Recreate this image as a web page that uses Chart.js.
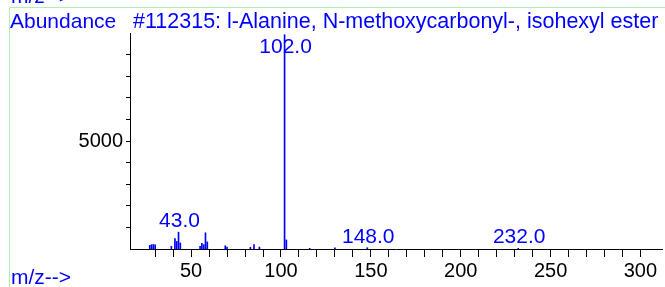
<!DOCTYPE html>
<html>
<head>
<meta charset="utf-8">
<script src="https://cdn.jsdelivr.net/npm/chart.js@4"></script>
<style>
  html, body { margin: 0; padding: 0; background: #fff; }
</style>
</head>
<body>
<canvas id="myChart" width="665" height="287"></canvas>
<script>
// data
const mzValues  = [27, 28, 29, 30, 39, 41, 42, 43, 44, 55, 56, 57, 58, 59, 69, 70, 83, 85, 88, 102, 103, 116, 130, 148, 232];
const abundance = [170, 200, 210, 190, 120, 480, 350, 780, 280, 120, 260, 200, 750, 330, 150, 90, 80, 200, 90, 9920, 420, 30, 50, 60, 30];
const peakLabelMz   = [43, 102, 148, 232];
const peakLabelText = ['43.0', '102.0', '148.0', '232.0'];
const xTickLabels = [50, 100, 150, 200, 250, 300];
const yTickLabels = [5000];

const blue = '#0000ff';
const textFont = '21px "Liberation Sans", Arial, sans-serif';

// extra text, frame and peak labels
const textPlugin = {
  id: 'texts',
  afterDraw(chart) {
    const ctx = chart.ctx;
    const xs = chart.scales.x, ys = chart.scales.y;
    ctx.save();
    // light green frame
    ctx.strokeStyle = '#aef0ae';
    ctx.lineWidth = 1;
    ctx.beginPath();
    ctx.moveTo(9.5, 7.5); ctx.lineTo(665, 7.5);
    ctx.moveTo(9.5, 7.5); ctx.lineTo(9.5, 287);
    ctx.stroke();

    ctx.fillStyle = blue;
    ctx.font = textFont;
    ctx.textBaseline = 'alphabetic';
    ctx.textAlign = 'left';
    ctx.fillText('m/z-->', 11, 3);
    ctx.fillText('Abundance', 10, 28);
    ctx.font = '21.5px "Liberation Sans", Arial, sans-serif';
    ctx.fillText('#112315: l-Alanine, N-methoxycarbonyl-, isohexyl ester', 133, 28);
    ctx.font = textFont;
    ctx.fillText('m/z-->', 11, 284);

    // peak labels
    ctx.textAlign = 'center';
    peakLabelMz.forEach((mz, i) => {
      const idx = mzValues.indexOf(mz);
      const px = xs.getPixelForValue(mz);
      let py = ys.getPixelForValue(abundance[idx]) - 5;
      py = Math.max(py, chart.chartArea.top + 20);
      ctx.fillText(peakLabelText[i], px + 1, py);
    });
    ctx.restore();
  }
};

const config = {
  type: 'bar',
  data: {
    datasets: [{
      data: mzValues.map((m, i) => ({ x: m, y: abundance[i] })),
      backgroundColor: blue,
      borderWidth: 0,
      barThickness: 1
    }]
  },
  options: {
    responsive: false,
    devicePixelRatio: 1,
    animation: false,
    layout: { padding: { left: 0, top: 33, right: 3, bottom: 0 } },
    plugins: { legend: { display: false }, tooltip: { enabled: false } },
    scales: {
      x: {
        type: 'linear',
        min: 16,
        max: 312,
        offset: false,
        afterBuildTicks: (s) => { s.ticks = s.ticks.filter(t => t.value % 10 === 0); },
        afterFit: (s) => { s.height = 38; },
        ticks: {
          stepSize: 10,
          autoSkip: false,
          maxRotation: 0,
          padding: 2,
          color: '#000',
          font: { family: '"Liberation Sans", Arial, sans-serif', size: 20 },
          callback: (v) => xTickLabels.includes(v) ? String(v) : ''
        },
        grid: { drawOnChartArea: false, drawTicks: true, tickLength: 8, color: '#000', offset: false },
        border: { display: true, color: '#000', width: 1 }
      },
      y: {
        min: 0,
        max: 10000,
        afterBuildTicks: (s) => { s.ticks = s.ticks.filter(t => t.value > 0 && t.value < 10000); },
        afterFit: (s) => { s.width = 130; },
        ticks: {
          stepSize: 1000,
          autoSkip: false,
          padding: 3,
          color: '#000',
          font: { family: '"Liberation Sans", Arial, sans-serif', size: 20 },
          callback: (v) => yTickLabels.includes(v) ? String(v) : ''
        },
        grid: { drawOnChartArea: false, drawTicks: true, tickLength: 4, color: '#000' },
        border: { display: true, color: '#000', width: 1 }
      }
    }
  },
  plugins: [textPlugin]
};

const myChart = new Chart(document.getElementById('myChart'), config);
</script>
</body>
</html>
